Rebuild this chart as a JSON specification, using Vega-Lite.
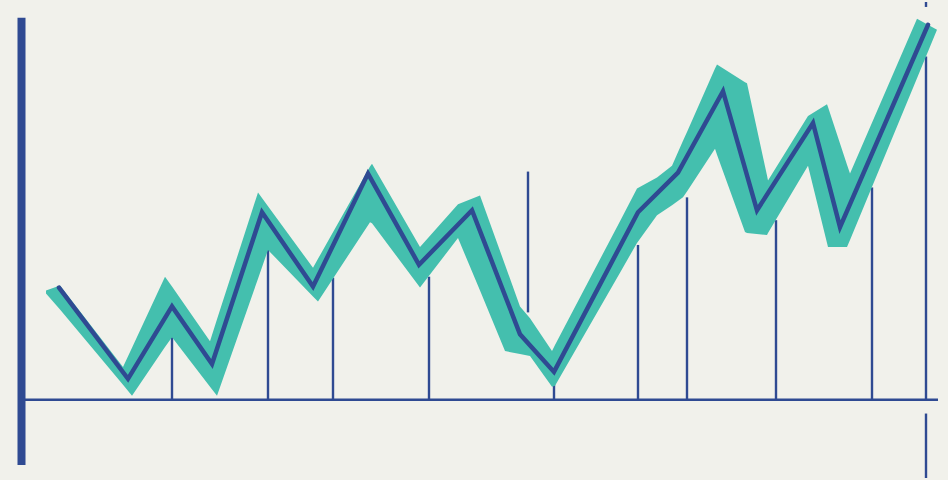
{
  "$schema": "https://vega.github.io/schema/vega-lite/v6.json",
  "autosize": {"type": "fit", "contains": "padding"},
  "width": 948,
  "height": 480,
  "padding": 0,
  "background": "#f1f1eb",
  "config": {"view": {"stroke": null}},
  "datasets": {
    "series": [
      {"t": 5.9, "v": 28.25}, {"t": 12.8, "v": 5.25}, {"t": 17.2, "v": 23.5}, {"t": 21.2, "v": 9},
      {"t": 26.2, "v": 47.25}, {"t": 31.3, "v": 28.5}, {"t": 36.8, "v": 57}, {"t": 41.9, "v": 34},
      {"t": 47.2, "v": 47.75}, {"t": 52.0, "v": 16.5}, {"t": 55.4, "v": 7}, {"t": 63.8, "v": 47.25},
      {"t": 67.8, "v": 57.25}, {"t": 72.3, "v": 77.75}, {"t": 75.7, "v": 47.75}, {"t": 81.3, "v": 69.75},
      {"t": 84.0, "v": 43.5}, {"t": 92.8, "v": 94.5}
    ],
    "band": [
      {"t": 4.6, "hi": 27.5, "lo": 26.75}, {"t": 6.0, "hi": 28.75, "lo": 22.75},
      {"t": 12.3, "hi": 8.25, "lo": 3.75}, {"t": 13.2, "hi": 13.1, "lo": 1},
      {"t": 16.5, "hi": 31, "lo": 13.25}, {"t": 17.2, "hi": 28.5, "lo": 15.75},
      {"t": 21.0, "hi": 14.75, "lo": 3.25}, {"t": 21.7, "hi": 20.25, "lo": 1},
      {"t": 25.8, "hi": 52.25, "lo": 30.5}, {"t": 26.8, "hi": 48.75, "lo": 37.75},
      {"t": 31.3, "hi": 33.25, "lo": 26}, {"t": 31.8, "hi": 35.5, "lo": 24.75},
      {"t": 37.0, "hi": 58.75, "lo": 44.75}, {"t": 37.2, "hi": 59.5, "lo": 44.5},
      {"t": 42.0, "hi": 38.5, "lo": 28.25}, {"t": 45.8, "hi": 49.25, "lo": 40.75},
      {"t": 48.0, "hi": 51.5, "lo": 27.5}, {"t": 50.5, "hi": 34, "lo": 12.25},
      {"t": 52.0, "hi": 23.5, "lo": 11.5}, {"t": 53.0, "hi": 20.5, "lo": 11},
      {"t": 55.2, "hi": 12.25, "lo": 3.25}, {"t": 55.5, "hi": 13.75, "lo": 3.5},
      {"t": 62.0, "hi": 45, "lo": 32}, {"t": 63.7, "hi": 53.25, "lo": 39.5},
      {"t": 65.7, "hi": 56, "lo": 46.5}, {"t": 67.2, "hi": 59, "lo": 49},
      {"t": 68.3, "hi": 65.25, "lo": 51}, {"t": 68.7, "hi": 67.5, "lo": 52.5},
      {"t": 71.5, "hi": 83.5, "lo": 63.25}, {"t": 71.7, "hi": 84.5, "lo": 61.75},
      {"t": 74.5, "hi": 80, "lo": 42.25}, {"t": 74.7, "hi": 79.75, "lo": 42},
      {"t": 76.7, "hi": 56.5, "lo": 41.5}, {"t": 76.8, "hi": 55.25, "lo": 42},
      {"t": 80.8, "hi": 71.5, "lo": 59}, {"t": 82.7, "hi": 74.5, "lo": 39.5},
      {"t": 82.8, "hi": 73.75, "lo": 38.5}, {"t": 84.7, "hi": 59.25, "lo": 38.5},
      {"t": 85.0, "hi": 57, "lo": 40.25},
      {"t": 91.7, "hi": 96, "lo": 81}, {"t": 93.7, "hi": 93.25, "lo": 93.25}
    ],
    "drops": [
      {"t": 17.2, "top": 15.75, "bot": 0}, {"t": 26.8, "top": 37.75, "bot": 0},
      {"t": 33.3, "top": 30.75, "bot": 0}, {"t": 42.9, "top": 31, "bot": 0},
      {"t": 52.8, "top": 57.5, "bot": 22}, {"t": 55.4, "top": 5.75, "bot": 0},
      {"t": 63.8, "top": 39, "bot": 0}, {"t": 68.7, "top": 51, "bot": 0},
      {"t": 77.6, "top": 45.25, "bot": 0}, {"t": 87.2, "top": 53.5, "bot": 0},
      {"t": 92.6, "top": 86.5, "bot": 0}, {"t": 92.6, "top": 100.25, "bot": 99},
      {"t": 92.6, "top": -3.5, "bot": -19.75}
    ],
    "frame": [
      {"kind": "axis", "t": 2.15, "t2": 2.15, "a": 96.25, "b": -16.5, "w": 8},
      {"kind": "base", "t": 2.5, "t2": 93.8, "a": 0, "b": 0, "w": 2.5}
    ]
  },
  "layer": [
    {
      "data": {"name": "frame"},
      "mark": {"type": "rule", "color": "#2f4a92"},
      "encoding": {
        "x": {"field": "t", "type": "quantitative", "scale": {"domain": [0, 94.8], "nice": false, "zero": false}, "axis": null},
        "x2": {"field": "t2"},
        "y": {"field": "a", "type": "quantitative", "scale": {"domain": [-19.75, 100.25], "nice": false, "zero": false}, "axis": null},
        "y2": {"field": "b"},
        "strokeWidth": {"field": "w", "type": "quantitative", "scale": null, "legend": null}
      }
    },
    {
      "data": {"name": "drops"},
      "mark": {"type": "rule", "color": "#2f4a92", "strokeWidth": 2.4},
      "encoding": {
        "x": {"field": "t", "type": "quantitative"},
        "y": {"field": "top", "type": "quantitative"},
        "y2": {"field": "bot"}
      }
    },
    {
      "data": {"name": "band"},
      "mark": {"type": "area", "color": "#44bfae", "opacity": 1},
      "encoding": {
        "x": {"field": "t", "type": "quantitative"},
        "y": {"field": "hi", "type": "quantitative"},
        "y2": {"field": "lo"}
      }
    },
    {
      "data": {"name": "series"},
      "mark": {"type": "line", "color": "#2f4a92", "strokeWidth": 4.5, "strokeCap": "round", "strokeJoin": "miter"},
      "encoding": {
        "x": {"field": "t", "type": "quantitative"},
        "y": {"field": "v", "type": "quantitative"}
      }
    }
  ]
}
